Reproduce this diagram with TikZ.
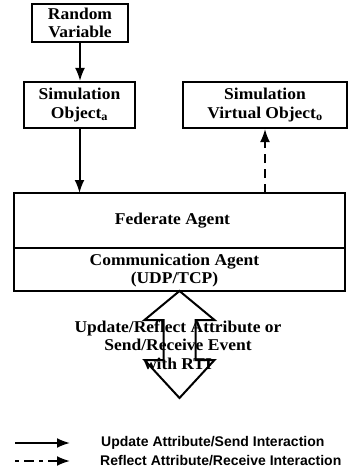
\documentclass[tikz,border=0pt]{standalone}
\usepackage{fontspec}
\setmainfont{Liberation Serif}
\newfontfamily\boxfont[FakeStretch=1.06]{Liberation Serif}
\newfontfamily\legendfont{Liberation Sans}
\usetikzlibrary{arrows.meta}

\tikzset{
  boxtext/.style={align=center, inner sep=0pt,
    font=\boxfont\bfseries\fontsize{16.5}{18.5}\selectfont},
  block/.style={draw, line width=2pt, boxtext},
  flow/.style={line width=2pt, -{Latex[length=13pt,width=10pt]}},
  reflect/.style={flow, dash pattern=on 9pt off 6pt},
  legendtext/.style={anchor=west, inner sep=0pt,
    font=\legendfont\bfseries\fontsize{14}{16}\selectfont},
}

\begin{document}
\begin{tikzpicture}[x=1pt, y=-1pt]
\useasboundingbox (0,0) rectangle (349,476);

% simulation side
\node[block, minimum width=96pt, minimum height=38pt] (rv) at (80,23) {Random\\Variable};
\node[block, minimum width=111pt, minimum height=46pt] (so) at (79.5,105) {Simulation\\Object\textsubscript{a}};
\node[block, minimum width=164pt, minimum height=46pt] (vo) at (265,105) {Simulation\\Virtual Object\textsubscript{o}};

% agent stack: two boxes sharing one edge
\node[block, outer sep=0pt, minimum width=331pt, minimum height=55pt] (fa) at (179.5,220.5) {};
\node[block, outer sep=0pt, minimum width=331pt, minimum height=43pt, anchor=north] (ca) at (fa.south) {};
\node[boxtext] (fat) at ([xshift=-7pt]fa.center) {Federate Agent};
\node[boxtext] (cat) at ([xshift=-5pt,yshift=-1pt]ca.center) {Communication Agent\\(UDP/TCP)};

% data flow
\draw[flow] (rv.south) -- (rv.south |- so.north);
\draw[flow] (so.south) -- (so.south |- fa.north);
\draw[reflect] (vo.south |- fa.north) -- (vo.south);

% two-way exchange with the RTI
\coordinate (dt) at (ca.south);
\draw[line width=2pt, line join=miter]
  (dt) -- ++(-35,29) -- ++(19,0) -- ++(0,40) -- ++(-19,0) -- ++(35,38)
       -- ++(35,-38) -- ++(-19,0) -- ++(0,-40) -- ++(19,0) -- cycle;
\node[boxtext] (rti) at (178,345)
  {Update/Reflect Attribute or\\Send/Receive Event\\with RTI};

% legend
\coordinate (k1a) at (15,443);
\coordinate (k1b) at (70,443);
\coordinate (k2a) at (15,461);
\coordinate (k2b) at (70,461);
\draw[flow] (k1a) -- (k1b);
\draw[flow, dash pattern=on 4pt off 5pt on 10pt off 5pt] (k2a) -- (k2b);
\node[legendtext] (t1) at (101,443) {Update Attribute/Send Interaction};
\node[legendtext] (t2) at (100,461) {Reflect Attribute/Receive Interaction};
\end{tikzpicture}
\end{document}
